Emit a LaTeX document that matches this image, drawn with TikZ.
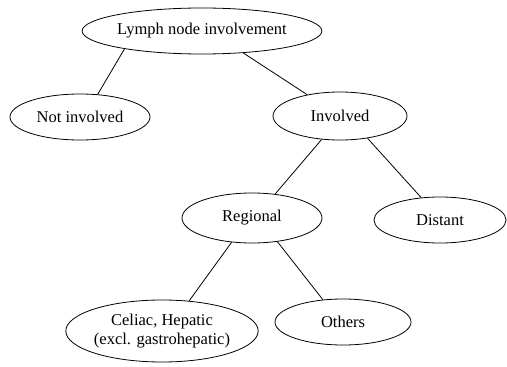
\documentclass[tikz,border=0pt]{standalone}
\usepackage{fontspec}
\setmainfont{Liberation Serif}
\usetikzlibrary{shapes.geometric}
\begin{document}
\begin{tikzpicture}[x=1pt,y=-1pt,
  oval/.style={ellipse, draw, line width=0.8pt, inner sep=0pt,
    font=\fontsize{16.5}{19.5}\selectfont, align=center},
  link/.style={line width=0.8pt}]
\useasboundingbox (0,0) rectangle (507,367);

% tree nodes
\node[oval, minimum width=201pt, minimum height=46pt] (lymph) at (202,31) {Lymph node involvement};
\node[oval, minimum width=140pt, minimum height=46pt] (notinv) at (80,117) {Not involved};
\node[oval, minimum width=134pt, minimum height=48pt] (inv) at (340,116) {Involved};
\node[oval, minimum width=140pt, minimum height=50pt] (reg) at (252,218) {Regional};
\node[oval, minimum width=132pt, minimum height=46pt] (dist) at (440,220) {Distant};
\node[oval, minimum width=160pt, minimum height=62pt] (cel) at (162,331) {Celiac, Hepatic\\(excl. gastrohepatic)};
\node[oval, minimum width=136pt, minimum height=46pt] (oth) at (343,322) {Others};

% branches
\draw[link] (lymph.193) -- (notinv.52);
\draw[link] (lymph.332) -- (inv.147);
\draw[link] (inv.232) -- (reg.46);
\draw[link] (inv.321) -- (dist.130);
\draw[link] (reg.230) -- (cel.48);
\draw[link] (reg.317) -- (oth.132);
\end{tikzpicture}
\end{document}
